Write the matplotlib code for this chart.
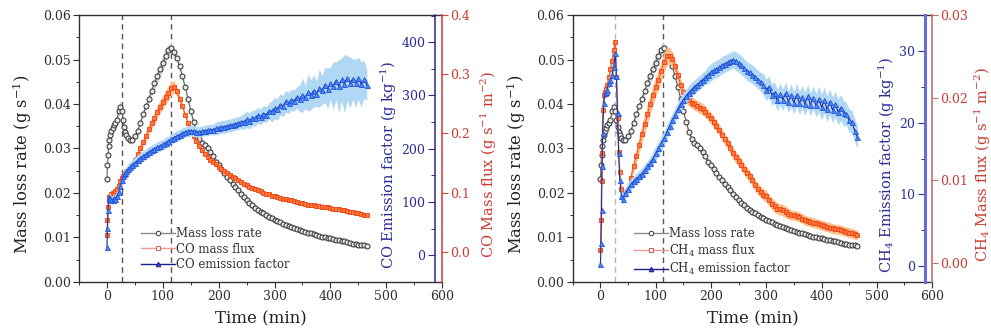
import numpy as np
import matplotlib.pyplot as plt
from matplotlib.ticker import MultipleLocator, FormatStrFormatter
from matplotlib.lines import Line2D

plt.rcParams['font.family'] = 'DejaVu Serif'
plt.rcParams['mathtext.fontset'] = 'dejavuserif'

# time (min)
time = [0, 1, 2, 3, 4, 6, 8, 10, 12, 15,
        18, 21, 24, 27, 29, 31, 33, 35, 38, 41,
        45, 50, 55, 60, 65, 70, 75, 80, 85, 90,
        95, 100, 105, 110, 115, 120, 125, 130, 135, 140,
        145, 150, 155, 160, 165, 170, 175, 180, 185, 190,
        195, 200, 205, 210, 215, 220, 225, 230, 235, 240,
        245, 250, 255, 260, 265, 270, 275, 280, 285, 290,
        295, 300, 305, 310, 315, 320, 325, 330, 335, 340,
        345, 350, 355, 360, 365, 370, 375, 380, 385, 390,
        395, 400, 405, 410, 415, 420, 425, 430, 435, 440,
        445, 450, 455, 460, 465]

# mass loss rate (g/s)
mlr = [0.0232, 0.0262, 0.0285, 0.0305, 0.0318, 0.0330, 0.0340, 0.0347, 0.0352, 0.0358,
       0.0365, 0.0385, 0.0394, 0.0385, 0.0365, 0.0348, 0.0337, 0.0330, 0.0323, 0.0320,
       0.0320, 0.0328, 0.0340, 0.0358, 0.0378, 0.0395, 0.0412, 0.0430, 0.0447, 0.0462,
       0.0478, 0.0493, 0.0508, 0.0522, 0.0525, 0.0516, 0.0503, 0.0485, 0.0462, 0.0438,
       0.0412, 0.0385, 0.0360, 0.0338, 0.0322, 0.0313, 0.0307, 0.0300, 0.0292, 0.0282,
       0.0270, 0.0262, 0.0254, 0.0245, 0.0236, 0.0228, 0.0221, 0.0213, 0.0206, 0.0198,
       0.0191, 0.0184, 0.0177, 0.0172, 0.0167, 0.0162, 0.0158, 0.0154, 0.0150, 0.0147,
       0.0143, 0.0140, 0.0137, 0.0134, 0.0131, 0.0128, 0.0126, 0.0123, 0.0121, 0.0119,
       0.0117, 0.0115, 0.0113, 0.0111, 0.0109, 0.0107, 0.0106, 0.0104, 0.0102, 0.0101,
       0.0099, 0.0098, 0.0097, 0.0095, 0.0094, 0.0092, 0.0091, 0.0089, 0.0088, 0.0086,
       0.0085, 0.0084, 0.0083, 0.0082, 0.0081]
mlr_sd = [0.0005, 0.0005, 0.0005, 0.0005, 0.0005, 0.0005, 0.0005, 0.0005, 0.0005, 0.0005,
          0.0006, 0.0012, 0.0014, 0.0012, 0.0008, 0.0006, 0.0005, 0.0005, 0.0005, 0.0005,
          0.0005, 0.0005, 0.0006, 0.0006, 0.0007, 0.0008, 0.0010, 0.0012, 0.0015, 0.0017,
          0.0018, 0.0018, 0.0016, 0.0013, 0.0011, 0.0009, 0.0007, 0.0006, 0.0006, 0.0006,
          0.0006, 0.0006, 0.0006, 0.0006, 0.0006, 0.0007, 0.0007, 0.0007, 0.0007, 0.0007,
          0.0008, 0.0008, 0.0008, 0.0008, 0.0008, 0.0008, 0.0008, 0.0008, 0.0008, 0.0008,
          0.0009, 0.0009, 0.0009, 0.0009, 0.0009, 0.0008, 0.0008, 0.0008, 0.0008, 0.0008,
          0.0006, 0.0006, 0.0006, 0.0006, 0.0006, 0.0006, 0.0006, 0.0006, 0.0006, 0.0006,
          0.0005, 0.0005, 0.0005, 0.0005, 0.0005, 0.0005, 0.0005, 0.0005, 0.0005, 0.0005,
          0.0004, 0.0004, 0.0004, 0.0004, 0.0004, 0.0004, 0.0004, 0.0004, 0.0004, 0.0004,
          0.0004, 0.0004, 0.0004, 0.0004, 0.0004]

# CO mass flux (g s-1 m-2)
co_flux = [0.029, 0.054, 0.075, 0.088, 0.092, 0.095, 0.097, 0.099, 0.100, 0.102,
           0.106, 0.112, 0.120, 0.125, 0.128, 0.131, 0.134, 0.136, 0.139, 0.142,
           0.147, 0.156, 0.165, 0.175, 0.185, 0.196, 0.207, 0.217, 0.226, 0.236,
           0.245, 0.253, 0.261, 0.268, 0.276, 0.279, 0.271, 0.259, 0.246, 0.232,
           0.218, 0.206, 0.196, 0.187, 0.179, 0.172, 0.166, 0.161, 0.156, 0.152,
           0.148, 0.144, 0.140, 0.137, 0.134, 0.130, 0.127, 0.124, 0.121, 0.118,
           0.115, 0.113, 0.110, 0.108, 0.106, 0.104, 0.102, 0.100, 0.098, 0.097,
           0.095, 0.094, 0.093, 0.091, 0.090, 0.089, 0.088, 0.087, 0.086, 0.084,
           0.083, 0.082, 0.081, 0.080, 0.080, 0.079, 0.078, 0.077, 0.076, 0.076,
           0.075, 0.074, 0.073, 0.073, 0.072, 0.071, 0.070, 0.069, 0.068, 0.067,
           0.066, 0.065, 0.064, 0.063, 0.062]
co_flux_sd = [0.004, 0.004, 0.004, 0.004, 0.004, 0.004, 0.004, 0.004, 0.004, 0.004,
              0.004, 0.004, 0.004, 0.004, 0.004, 0.004, 0.004, 0.004, 0.004, 0.004,
              0.005, 0.006, 0.006, 0.007, 0.007, 0.008, 0.008, 0.009, 0.010, 0.010,
              0.011, 0.011, 0.012, 0.012, 0.012, 0.010, 0.008, 0.007, 0.006, 0.005,
              0.004, 0.004, 0.004, 0.004, 0.004, 0.004, 0.004, 0.004, 0.004, 0.004,
              0.004, 0.004, 0.004, 0.004, 0.004, 0.004, 0.004, 0.004, 0.004, 0.004,
              0.003, 0.003, 0.003, 0.003, 0.003, 0.003, 0.003, 0.003, 0.003, 0.003,
              0.003, 0.003, 0.003, 0.003, 0.003, 0.003, 0.003, 0.003, 0.003, 0.003,
              0.003, 0.003, 0.003, 0.003, 0.003, 0.003, 0.003, 0.003, 0.003, 0.003,
              0.003, 0.003, 0.003, 0.003, 0.003, 0.003, 0.003, 0.003, 0.003, 0.003,
              0.003, 0.003, 0.003, 0.003, 0.003]

# CO emission factor (g/kg)
co_ef = [16, 52, 85, 105, 110, 108, 103, 104, 107, 106,
         112, 118, 130, 142, 148, 152, 155, 158, 162, 165,
         170, 174, 178, 183, 186, 190, 194, 197, 200, 203,
         205, 208, 211, 214, 218, 221, 224, 226, 229, 231,
         233, 234, 233, 232, 231, 233, 234, 235, 236, 236,
         238, 239, 241, 241, 243, 244, 245, 247, 248, 250,
         251, 255, 252, 258, 257, 263, 260, 266, 264, 271,
         270, 276, 274, 283, 280, 289, 286, 292, 290, 297,
         294, 301, 297, 306, 301, 309, 303, 314, 310, 320,
         313, 323, 318, 328, 317, 330, 322, 333, 324, 331,
         323, 332, 321, 330, 320]
co_ef_sd = [8, 8, 8, 8, 8, 8, 8, 8, 8, 8,
            10, 10, 10, 10, 10, 10, 10, 10, 10, 10,
            10, 10, 10, 10, 10, 10, 10, 10, 10, 10,
            10, 10, 10, 10, 10, 10, 10, 10, 10, 10,
            10, 10, 10, 10, 10, 10, 10, 10, 10, 10,
            12, 12, 12, 12, 12, 12, 12, 12, 12, 12,
            15, 15, 15, 15, 15, 15, 15, 15, 15, 15,
            20, 20, 20, 20, 20, 20, 20, 20, 20, 20,
            25, 32, 22, 35, 28, 30, 24, 36, 27, 33,
            38, 30, 45, 35, 50, 40, 55, 42, 48, 38,
            45, 40, 42, 35, 30]

# CH4 mass flux (g s-1 m-2)
ch4_flux = [0.0016, 0.0052, 0.0099, 0.0133, 0.0185, 0.0203, 0.0207, 0.0210, 0.0215, 0.0225,
            0.0235, 0.0245, 0.0258, 0.0268, 0.0225, 0.0175, 0.0135, 0.0110, 0.0090, 0.0082,
            0.0084, 0.0090, 0.0103, 0.0118, 0.0130, 0.0143, 0.0156, 0.0168, 0.0180, 0.0192,
            0.0203, 0.0213, 0.0222, 0.0232, 0.0243, 0.0250, 0.0251, 0.0247, 0.0238, 0.0227,
            0.0216, 0.0207, 0.0201, 0.0197, 0.0194, 0.0192, 0.0190, 0.0188, 0.0186, 0.0183,
            0.0179, 0.0175, 0.0171, 0.0166, 0.0161, 0.0155, 0.0150, 0.0145, 0.0139, 0.0133,
            0.0128, 0.0124, 0.0119, 0.0114, 0.0109, 0.0105, 0.0100, 0.0094, 0.0090, 0.0086,
            0.0083, 0.0081, 0.0076, 0.0072, 0.0069, 0.0066, 0.0065, 0.0064, 0.0062, 0.0060,
            0.0058, 0.0058, 0.0057, 0.0056, 0.0054, 0.0052, 0.0051, 0.0050, 0.0049, 0.0048,
            0.0047, 0.0046, 0.0045, 0.0044, 0.0043, 0.0042, 0.0041, 0.0041, 0.0040, 0.0039,
            0.0038, 0.0037, 0.0036, 0.0035, 0.0034]
ch4_flux_sd = [0.0005, 0.0005, 0.0005, 0.0005, 0.0005, 0.0005, 0.0005, 0.0005, 0.0005, 0.0005,
               0.0008, 0.0008, 0.0008, 0.0008, 0.0008, 0.0008, 0.0008, 0.0008, 0.0008, 0.0008,
               0.0006, 0.0006, 0.0007, 0.0008, 0.0009, 0.0010, 0.0011, 0.0012, 0.0012, 0.0012,
               0.0012, 0.0012, 0.0012, 0.0012, 0.0012, 0.0011, 0.0010, 0.0009, 0.0008, 0.0008,
               0.0007, 0.0007, 0.0007, 0.0007, 0.0007, 0.0007, 0.0007, 0.0007, 0.0007, 0.0007,
               0.0007, 0.0007, 0.0007, 0.0007, 0.0007, 0.0007, 0.0007, 0.0007, 0.0007, 0.0007,
               0.0007, 0.0007, 0.0007, 0.0007, 0.0007, 0.0007, 0.0007, 0.0007, 0.0007, 0.0007,
               0.0007, 0.0007, 0.0007, 0.0007, 0.0007, 0.0007, 0.0007, 0.0007, 0.0007, 0.0007,
               0.0006, 0.0006, 0.0006, 0.0006, 0.0006, 0.0006, 0.0006, 0.0006, 0.0006, 0.0006,
               0.0006, 0.0006, 0.0006, 0.0006, 0.0006, 0.0006, 0.0006, 0.0006, 0.0006, 0.0006,
               0.0006, 0.0006, 0.0006, 0.0006, 0.0006]

# CH4 emission factor (g/kg)
ch4_ef = [0.3, 3.2, 7.8, 13.9, 18.5, 22.7, 24.1, 24.3, 24.6, 25.5,
          26.0, 26.6, 27.8, 29.7, 26.5, 21.3, 15.7, 12.0, 9.8, 9.4,
          10.2, 10.8, 11.4, 11.8, 12.2, 12.5, 12.9, 13.4, 13.9, 14.4,
          15.0, 15.7, 16.4, 17.1, 17.8, 18.7, 19.5, 20.3, 21.1, 21.9,
          22.6, 23.2, 23.7, 24.2, 24.6, 25.0, 25.3, 25.6, 26.0, 26.3,
          26.7, 27.0, 27.3, 27.5, 27.7, 28.0, 28.2, 28.4, 28.6, 28.8,
          28.6, 28.3, 28.0, 27.6, 27.2, 27.0, 26.7, 26.4, 26.0, 25.7,
          25.3, 24.6, 25.0, 23.9, 24.2, 23.1, 24.0, 23.2, 24.1, 22.9,
          23.8, 22.8, 23.9, 22.7, 23.6, 22.6, 23.7, 22.5, 23.5, 22.4,
          23.3, 22.2, 23.1, 21.9, 22.9, 21.8, 22.6, 21.5, 22.1, 21.3,
          21.2, 20.3, 20.1, 18.9, 18.0]
ch4_ef_sd = [0.5, 0.5, 0.5, 0.5, 0.5, 0.5, 0.5, 0.5, 0.5, 0.5,
             0.8, 0.8, 0.8, 0.8, 0.8, 0.8, 0.8, 0.8, 0.8, 0.8,
             0.8, 0.8, 0.8, 0.8, 0.8, 0.8, 0.8, 0.8, 0.8, 0.8,
             1.0, 1.0, 1.0, 1.0, 1.0, 1.0, 1.0, 1.0, 1.0, 1.0,
             1.0, 1.0, 1.0, 1.0, 1.0, 1.0, 1.0, 1.0, 1.0, 1.0,
             1.2, 1.2, 1.2, 1.2, 1.2, 1.2, 1.2, 1.2, 1.2, 1.2,
             1.3, 1.3, 1.3, 1.3, 1.3, 1.3, 1.3, 1.3, 1.3, 1.3,
             1.5, 1.5, 1.5, 1.5, 1.5, 1.5, 1.5, 1.5, 1.5, 1.5,
             1.6, 1.6, 1.6, 1.6, 1.6, 1.6, 1.6, 1.6, 1.6, 1.6,
             1.8, 1.8, 1.8, 1.8, 1.8, 1.8, 1.8, 1.8, 1.8, 1.8,
             1.6, 1.6, 1.6, 1.6, 1.6]

phase_lines = [27, 114]

t = np.array(time)
BLUE_TXT = '#2b2b96'
RED_TXT = '#cc3a32'
DARK = '#303030'
LABEL_Y = 0.44

fig = plt.figure(figsize=(9.91, 3.34), dpi=100)


def band(ax, y, sd, color):
    y = np.array(y)
    sd = np.array(sd)
    ax.fill_between(t, y - sd, y + sd, color=color, lw=0, zorder=1)


def panel(rect, flux, flux_sd, ef, ef_sd, gas, flux_lim, flux_step, flux_fmt,
          ef_lim, ef_step, ef_minor, ef_spine_color, ef_spine_lw, red_spine_color,
          dash_colors, red_pad):
    ax = fig.add_axes(rect)
    band(ax, mlr, mlr_sd, '#d6d6d6')
    ax.plot(t, mlr, color='#666666', lw=0.8, marker='o', ms=3.6, mfc='#e8e8e8',
            mec='#383838', mew=0.75, zorder=2)
    for x, c in zip(phase_lines, dash_colors):
        ax.axvline(x, color=c, ls=(0, (4, 3)), lw=1.0, zorder=0)
    ax.set_xlim(-50, 600)
    ax.set_ylim(0, 0.06)
    ax.xaxis.set_major_locator(MultipleLocator(100))
    ax.xaxis.set_minor_locator(MultipleLocator(50))
    ax.yaxis.set_major_locator(MultipleLocator(0.01))
    ax.yaxis.set_minor_locator(MultipleLocator(0.005))
    ax.yaxis.set_major_formatter(FormatStrFormatter('%.2f'))
    ax.tick_params(which='major', length=4, width=0.8, labelsize=9, colors=DARK, pad=2)
    ax.tick_params(which='minor', length=2.5, width=0.7, colors=DARK)
    ax.spines['right'].set_visible(False)
    for s in ['left', 'bottom', 'top']:
        ax.spines[s].set_color(DARK)
        ax.spines[s].set_linewidth(1.0)
    ax.set_xlabel('Time (min)', fontsize=12, color='#222222', labelpad=5)
    ax.set_ylabel('Mass loss rate (g s$^{-1}$)', fontsize=11.8, color='#222222', labelpad=6)
    ax.yaxis.label.set_y(LABEL_Y)

    # mass flux axis (red, outer right)
    axf = ax.twinx()
    band(axf, flux, flux_sd, '#ffbf8a')
    axf.plot(t, flux, color='#ff5a2a', lw=0.8, marker='s', ms=3.0, mfc='#ff7a40',
             mec='#f04010', mew=0.6, zorder=2)
    axf.set_ylim(*flux_lim)
    axf.yaxis.set_major_locator(MultipleLocator(flux_step))
    axf.yaxis.set_major_formatter(FormatStrFormatter(flux_fmt))
    for s in ['left', 'top', 'bottom']:
        axf.spines[s].set_visible(False)
    axf.spines['right'].set_color(red_spine_color)
    axf.spines['right'].set_linewidth(1.2)
    axf.tick_params(axis='y', length=4, width=0.8, labelsize=9, colors=red_spine_color,
                    labelcolor=RED_TXT, pad=2)
    axf.set_ylabel(gas + ' Mass flux (g s$^{-1}$ m$^{-2}$)', fontsize=10.5,
                   color=RED_TXT, labelpad=red_pad)
    axf.yaxis.label.set_y(LABEL_Y)

    # emission factor axis (blue, just inside the right edge)
    axe = ax.twinx()
    band(axe, ef, ef_sd, '#b0d8f4')
    axe.plot(t, ef, color='#1c2c9a', lw=0.8, marker='^', ms=3.6, mfc='#4d8cf5',
             mec='#2350d8', mew=0.6, zorder=2)
    axe.set_ylim(*ef_lim)
    axe.yaxis.set_major_locator(MultipleLocator(ef_step))
    axe.yaxis.set_minor_locator(MultipleLocator(ef_minor))
    for s in ['right', 'top', 'bottom']:
        axe.spines[s].set_visible(False)
    axe.spines['left'].set_visible(True)
    axe.spines['left'].set_position(('axes', 0.981))
    axe.spines['left'].set_color(ef_spine_color)
    axe.spines['left'].set_linewidth(ef_spine_lw)
    axe.yaxis.set_ticks_position('left')
    axe.yaxis.set_label_position('left')
    axe.tick_params(axis='y', which='major', length=5, width=0.8, labelsize=9,
                    colors=BLUE_TXT, pad=2)
    axe.tick_params(axis='y', which='minor', length=3, width=0.7, colors=BLUE_TXT)
    axe.set_ylabel(gas + ' Emission factor (g kg$^{-1}$)', fontsize=10.5,
                   color=BLUE_TXT, labelpad=2)
    axe.yaxis.label.set_y(LABEL_Y)

    handles = [Line2D([], [], color='#8a8a8a', lw=1.0, marker='o', ms=3.2,
                      mfc='white', mec='#3c3c3c', mew=0.7),
               Line2D([], [], color='#f29a90', lw=1.0, marker='s', ms=2.8,
                      mfc='white', mec='#e05a40', mew=0.7),
               Line2D([], [], color='#1c1c90', lw=1.0, marker='^', ms=3.3,
                      mfc='#3a4ec8', mec='#1c1c90', mew=0.7)]
    labels = ['Mass loss rate', gas + ' mass flux', gas + ' emission factor']
    leg = axe.legend(handles, labels, loc='upper left', bbox_to_anchor=(0.17, 0.205),
                     frameon=False, fontsize=8.5, handlelength=2.9, handletextpad=0.1,
                     labelspacing=0.2, borderpad=0, borderaxespad=0)
    for txt in leg.get_texts():
        txt.set_color('#333333')
    return ax


panel([0.0797, 0.156, 0.3665, 0.799], co_flux, co_flux_sd, co_ef, co_ef_sd, 'CO',
      (-0.0507, 0.4), 0.1, '%.1f', (-50, 451), 100, 50, '#2a2a8c', 1.1, '#d04848',
      ['#555555', '#555555'], 6)
panel([0.578, 0.156, 0.3625, 0.799], ch4_flux, ch4_flux_sd, ch4_ef, ch4_ef_sd, 'CH$_4$',
      (-0.00226, 0.03), 0.01, '%.2f', (-2.2, 35), 10, 5, '#6a6ad6', 2.2, '#c07070',
      ['#b4b4b4', '#555555'], 3)

fig.savefig('out.png', dpi=100)
